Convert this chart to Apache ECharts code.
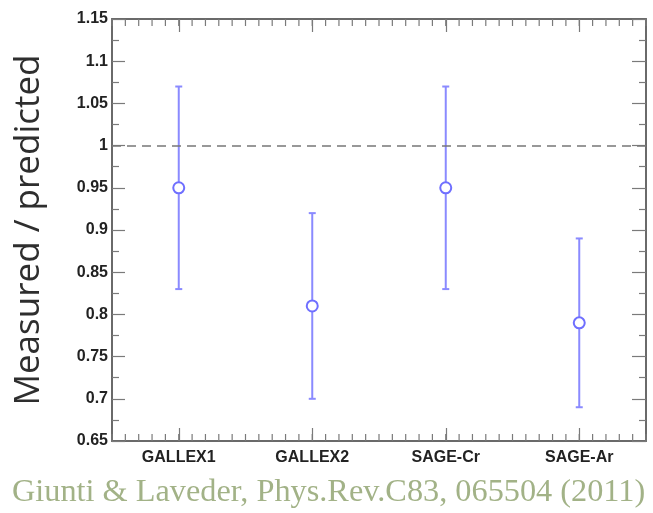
<!DOCTYPE html>
<html>
<head>
<meta charset="utf-8">
<script src="https://cdn.jsdelivr.net/npm/echarts@6/dist/echarts.min.js"></script>
<style>
html,body{margin:0;padding:0;background:#fff;}
#c{width:653px;height:513px;}
</style>
</head>
<body>
<div id="c"></div>
<script>
const categories = ['GALLEX1', 'GALLEX2', 'SAGE-Cr', 'SAGE-Ar'];
const centralValues = [0.95, 0.81, 0.95, 0.79];
const lowerValues = [0.83, 0.70, 0.83, 0.69];
const upperValues = [1.07, 0.92, 1.07, 0.89];
const referenceValue = 1.0;
const yTicks = { min: 0.65, max: 1.15, step: 0.05 };
const yTitle = 'Measured / predicted';
const footerText = 'Giunti & Laveder, Phys.Rev.C83, 065504 (2011)';
const minorPerCategory = 10;

const chart = echarts.init(document.getElementById('c'), null, { renderer: 'canvas' });

const axisLineStyle = { color: '#6a6a6a', width: 2 };
const tickStyle = { color: '#7a7a7a', width: 1.2 };
const errColor = '#8a8aff';

// fine slots: each category spans minorPerCategory slots, its name sits in the middle slot
const half = minorPerCategory / 2;
const slotCount = categories.length * minorPerCategory + 1;
const slotNames = [];
for (let k = 0; k < slotCount; k++) {
  const ci = (k - half) / minorPerCategory;
  slotNames.push(Number.isInteger(ci) && ci >= 0 && ci < categories.length ? categories[ci] : '');
}
const catSlot = categories.map((c, i) => slotNames.indexOf(c));
const errData = categories.map((c, i) => [catSlot[i], lowerValues[i], upperValues[i]]);
const ptData = categories.map((c, i) => [catSlot[i], centralValues[i]]);
const slotTickData = slotNames.map((n, k) => [k, yTicks.min, yTicks.max]);

function fineAxis(pos, withLabels) {
  return {
    type: 'category', position: pos, data: slotNames, boundaryGap: false,
    axisLine: { show: true, onZero: false, lineStyle: axisLineStyle },
    axisTick: { show: false },
    axisLabel: {
      show: withLabels, interval: 0, margin: 9, color: '#222', fontWeight: 'bold', fontSize: 16,
      fontFamily: 'Liberation Sans, Arial, sans-serif', hideOverlap: false
    },
    splitLine: { show: false }
  };
}
function majorAxis(pos) {
  return {
    type: 'category', position: pos, data: categories, boundaryGap: true,
    axisLine: { show: false, onZero: false },
    axisTick: { show: true, inside: true, alignWithLabel: true, interval: 0, length: 13, lineStyle: tickStyle },
    axisLabel: { show: false }, splitLine: { show: false }
  };
}

const option = {
  backgroundColor: '#ffffff',
  animation: false,
  grid: { left: 112, right: 7, top: 19, bottom: 72, containLabel: false },
  xAxis: [ fineAxis('bottom', true), fineAxis('top', false), majorAxis('bottom'), majorAxis('top') ],
  yAxis: [
    {
      type: 'value', position: 'left', min: yTicks.min, max: yTicks.max, interval: yTicks.step,
      axisLine: { show: true, onZero: false, lineStyle: axisLineStyle },
      axisTick: { show: true, inside: true, length: 13, lineStyle: tickStyle },
      minorTick: { show: true, splitNumber: 2, length: 7, lineStyle: tickStyle },
      axisLabel: {
        show: true, margin: 4, color: '#222', fontWeight: 'bold', fontSize: 16,
        fontFamily: 'Liberation Sans, Arial, sans-serif',
        formatter: v => String(+v.toFixed(2))
      },
      splitLine: { show: false }, minorSplitLine: { show: false },
      name: yTitle, nameLocation: 'middle', nameGap: 65,
      nameTextStyle: { fontSize: 35, color: '#2e2e2e', fontFamily: 'Open Sans, sans-serif', fontWeight: 500 }
    },
    {
      type: 'value', position: 'right', min: yTicks.min, max: yTicks.max, interval: yTicks.step,
      axisLine: { show: true, onZero: false, lineStyle: axisLineStyle },
      axisTick: { show: true, inside: true, length: 14, lineStyle: tickStyle },
      minorTick: { show: true, splitNumber: 2, length: 7, lineStyle: tickStyle },
      axisLabel: { show: false }, splitLine: { show: false }, minorSplitLine: { show: false }
    }
  ],
  series: [
    {
      // short inward tick marks on the top and bottom frame, one per fine axis slot
      type: 'custom', xAxisIndex: 0, yAxisIndex: 0, data: slotTickData, z: 5, silent: true, clip: false,
      encode: { x: 0, y: [1, 2] },
      renderItem: function (params, api) {
        const k = api.value(0);
        const b = api.coord([k, api.value(1)]);
        const t = api.coord([k, api.value(2)]);
        const L = 7;
        const st = { stroke: '#7a7a7a', lineWidth: 1.2, fill: null };
        return {
          type: 'group',
          children: [
            { type: 'line', shape: { x1: b[0], y1: b[1], x2: b[0], y2: b[1] - L }, style: st },
            { type: 'line', shape: { x1: t[0], y1: t[1], x2: t[0], y2: t[1] + L }, style: st }
          ]
        };
      }
    },
    {
      type: 'custom', xAxisIndex: 0, yAxisIndex: 0, data: errData, z: 3,
      encode: { x: 0, y: [1, 2] },
      renderItem: function (params, api) {
        const x = api.value(0);
        const lo = api.coord([x, api.value(1)]);
        const hi = api.coord([x, api.value(2)]);
        const cap = 3.5;
        const st = { stroke: errColor, lineWidth: 2 };
        return {
          type: 'group',
          children: [
            { type: 'line', shape: { x1: lo[0], y1: lo[1], x2: hi[0], y2: hi[1] }, style: st },
            { type: 'line', shape: { x1: lo[0] - cap, y1: lo[1], x2: lo[0] + cap, y2: lo[1] }, style: st },
            { type: 'line', shape: { x1: hi[0] - cap, y1: hi[1], x2: hi[0] + cap, y2: hi[1] }, style: st }
          ]
        };
      },
      markLine: {
        silent: true, symbol: 'none', label: { show: false },
        lineStyle: { color: '#777', type: [9, 6], width: 1.6 },
        data: [{ yAxis: referenceValue }]
      }
    },
    {
      type: 'scatter', xAxisIndex: 0, yAxisIndex: 0, data: ptData, z: 4,
      symbol: 'circle', symbolSize: 11,
      itemStyle: { color: '#ffffff', borderColor: '#6f6fff', borderWidth: 2, opacity: 1 }
    }
  ],
  graphic: [
    {
      type: 'text', left: 12, top: 477,
      style: { text: footerText, fill: '#a2b287', font: '32.3px "Liberation Serif", "Times New Roman", serif' }
    }
  ]
};
chart.setOption(option);
</script>
</body>
</html>
